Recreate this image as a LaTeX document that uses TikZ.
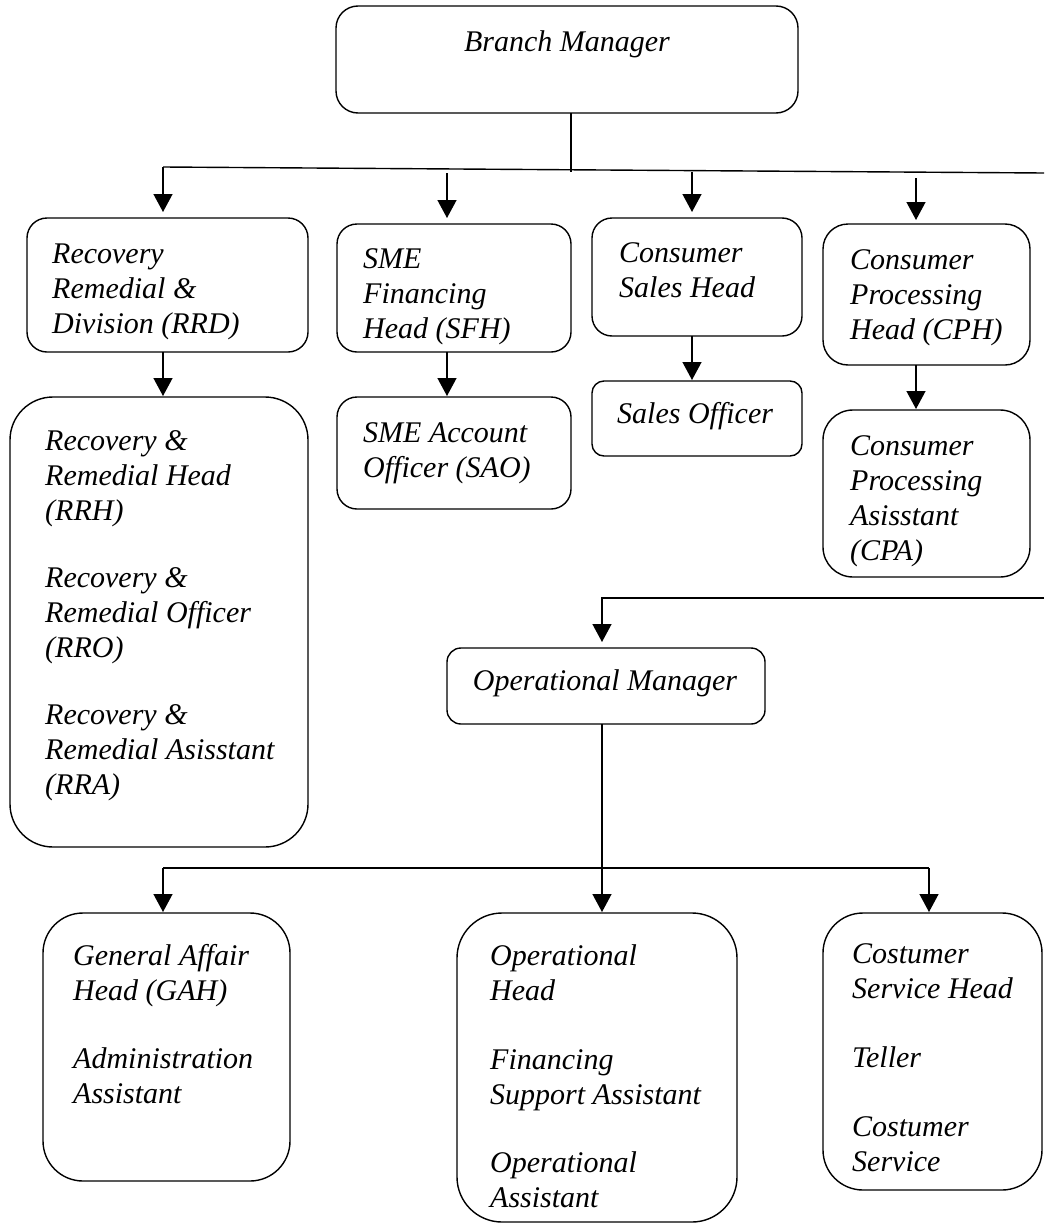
\documentclass[tikz,border=0pt]{standalone}
\usepackage{fontspec}
\setmainfont{Liberation Serif}
\usetikzlibrary{arrows.meta}
\begin{document}
\begin{tikzpicture}[x=1pt,y=-1pt,
  box/.style={draw, line width=1.4pt, inner sep=0pt, outer sep=0pt},
  txt/.style={anchor=north west, inner sep=0pt, align=left,
    font=\fontsize{30}{35}\selectfont\itshape},
  ctxt/.style={anchor=base, inner sep=0pt,
    font=\fontsize{30}{35}\selectfont\itshape},
  conn/.style={line width=1.4pt},
  arr/.style={line width=1.4pt, -{Triangle[width=19pt,length=18pt]}}]
\useasboundingbox (0,0) rectangle (1044,1226);
% boxes: center = ((x1+x2)/2,(y1+y2)/2)
\newcommand{\mybox}[6]{%
  \node[box, rounded corners=#6, minimum width={(#4)-(#2)}, minimum height={(#5)-(#3)}]
    (#1) at ({((#2)+(#4))/2},{((#3)+(#5))/2}) {};}
\mybox{bm}{336}{6}{798}{113}{22}
\mybox{rrd}{27}{218}{308}{352}{20}
\mybox{sfh}{337}{224}{571}{352}{20}
\mybox{csh}{592}{218}{802}{336}{20}
\mybox{cph}{823}{224}{1030}{365}{25}
\mybox{rr}{10}{397}{308}{847}{43}
\mybox{sao}{337}{397}{571}{509}{20}
\mybox{so}{592}{381}{802}{456}{12}
\mybox{cpa}{823}{410}{1030}{577}{30}
\mybox{om}{447}{648}{765}{724}{14}
\mybox{gah}{43}{913}{290}{1181}{40}
\mybox{oh}{457}{913}{737}{1222}{45}
\mybox{cs}{823}{913}{1042}{1190}{40}
% texts (north = first baseline - 24.5)
\node[ctxt] (t-bm) at (567,51) {Branch Manager};
\node[txt] (t-rrd) at (52,238.5) {\strut Recovery\\\strut Remedial \&\\\strut Division (RRD)};
\node[txt] (t-sfh) at (363,243.5) {\strut SME\\\strut Financing\\\strut Head (SFH)};
\node[txt] (t-csh) at (619,237.5) {\strut Consumer\\\strut Sales Head};
\node[txt] (t-cph) at (850,244.5) {\strut Consumer\\\strut Processing\\\strut Head (CPH)};
\node[txt] (t-sao) at (363,417.5) {\strut SME Account\\\strut Officer (SAO)};
\node[txt] (t-so) at (617,398.5) {\strut Sales Officer};
\node[txt] (t-cpa) at (850,430.5) {\strut Consumer\\\strut Processing\\\strut Asisstant\\\strut (CPA)};
\node[txt] (t-rr) at (45,425.5) {\strut Recovery \&\\\strut Remedial Head\\\strut (RRH)\\[32pt]\strut Recovery \&\\\strut Remedial Officer\\\strut (RRO)\\[32pt]\strut Recovery \&\\\strut Remedial Asisstant\\\strut (RRA)};
\node[ctxt] (t-om) at (605,690) {Operational Manager};
\node[txt] (t-gah) at (73,940.5) {\strut General Affair\\\strut Head (GAH)\\[33pt]\strut Administration\\\strut Assistant};
\node[txt] (t-oh) at (490,940.5) {\strut Operational\\\strut Head\\[34pt]\strut Financing\\\strut Support Assistant\\[33pt]\strut Operational\\\strut Assistant};
\node[txt] (t-cs) at (852,938.5) {\strut Costumer\\\strut Service Head\\[34pt]\strut Teller\\[34pt]\strut Costumer\\\strut Service};
% connectors
\coordinate (bmj) at (571,113);
\coordinate (bmk) at (571,172);
\coordinate (busL) at (163,167);
\coordinate (busR) at (1044,173);
\coordinate (s2) at (447,173);
\coordinate (s3) at (692,172);
\coordinate (s4) at (916,178);
\draw[conn] (bm.south -| bmj) -- (bmk);
\draw[conn] (busL) -- (busR);
\draw[arr, shorten >=6pt] (busL) -- (rrd.north -| busL);
\draw[arr, shorten >=6pt] (s2) -- (sfh.north -| s2);
\draw[arr, shorten >=6pt] (s3) -- (csh.north -| s3);
\draw[arr, shorten >=4pt] (s4) -- (cph.north -| s4);
\draw[arr, shorten >=1pt] (rrd.south -| busL) -- (rr.north -| busL);
\draw[arr, shorten >=1pt] (sfh.south -| s2) -- (sao.north -| s2);
\draw[arr, shorten >=1pt] (csh.south -| s3) -- (so.north -| s3);
\draw[arr, shorten >=1pt] (cph.south -| s4) -- (cpa.north -| s4);
\coordinate (omR) at (1044,598);
\coordinate (omC) at (602,598);
\draw[arr, shorten >=6pt] (omR) -- (omC) -- (om.north -| omC);
\coordinate (b2L) at (163,868);
\coordinate (b2R) at (929,868);
\draw[arr, shorten >=1pt] (om.south -| omC) -- (oh.north -| omC);
\draw[arr, shorten >=1pt] (gah.north -| b2L) ++(0,-45) -- (gah.north -| b2L);
\draw[conn] (b2L) -- (b2R);
\draw[arr, shorten >=1pt] (b2R) -- (cs.north -| b2R);
\end{tikzpicture}
\end{document}
